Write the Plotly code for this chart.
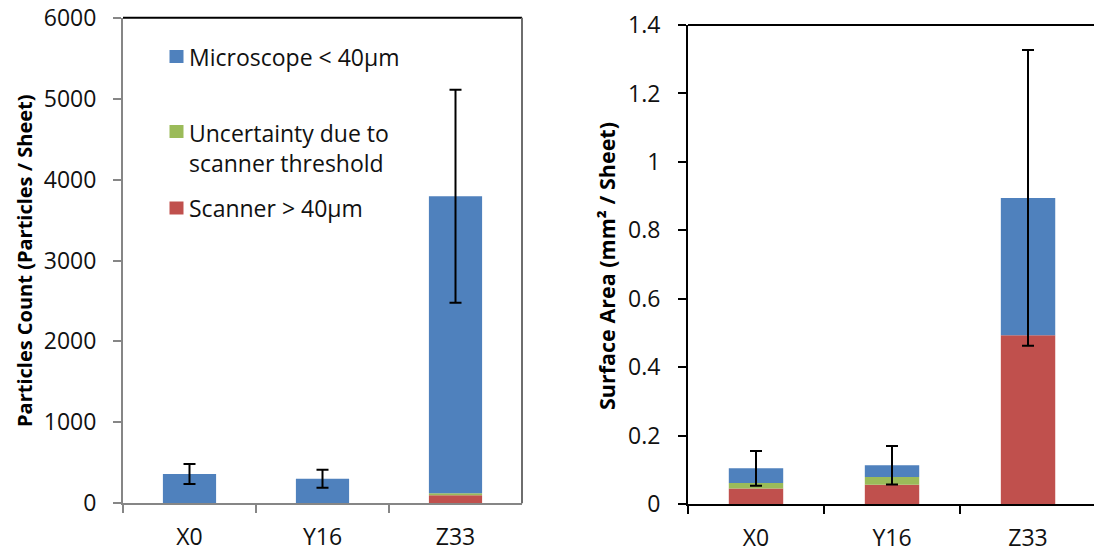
import plotly.graph_objects as go

# Sample sheets
categories = ["X0", "Y16", "Z33"]

# Particle counts per sheet, by detection method
count_scanner = [0, 0, 100]
count_uncertainty = [0, 0, 25]
count_microscope = [362, 304, 3670]
count_error = [125, 111, 1316]

# Particle surface area per sheet (mm²), by detection method
area_scanner = [0.046, 0.057, 0.494]
area_uncertainty = [0.016, 0.023, 0.0]
area_microscope = [0.043, 0.034, 0.401]
area_error = [0.051, 0.056, 0.432]

series_names = ["Scanner > 40µm", "Uncertainty due to scanner threshold", "Microscope < 40µm"]
series_colors = ["#C0504D", "#9BBB59", "#4F81BD"]

W, H = 1094, 554
FONT = "Open Sans"
TEXT = "#111111"


def px_x(v):
    return v / W


def px_y(v):
    return 1 - v / H


fig = go.Figure()

panels = [
    ("x", "y", [count_scanner, count_uncertainty, count_microscope], count_error),
    ("x2", "y2", [area_scanner, area_uncertainty, area_microscope], area_error),
]

for xa, ya, stacks, errs in panels:
    for name, color, vals in zip(series_names, series_colors, stacks):
        fig.add_trace(go.Bar(
            x=categories, y=vals, name=name, xaxis=xa, yaxis=ya,
            marker=dict(color=color, line=dict(width=0)),
            width=0.4, showlegend=False,
        ))
    totals = [sum(v) for v in zip(*stacks)]
    fig.add_trace(go.Scatter(
        x=categories, y=totals, xaxis=xa, yaxis=ya, mode="markers",
        marker=dict(size=1, opacity=0), showlegend=False, hoverinfo="skip",
        error_y=dict(type="data", array=errs, symmetric=True,
                     color="black", thickness=2, width=6),
    ))

tick_font = dict(family=FONT, size=23, color=TEXT)

fig.update_layout(
    width=W, height=H,
    margin=dict(l=0, r=0, t=0, b=0, autoexpand=False),
    paper_bgcolor="white", plot_bgcolor="white",
    barmode="relative",
    showlegend=False,
    xaxis=dict(
        domain=[px_x(123), px_x(522)], range=[-0.5, 2.5],
        showline=True, linecolor="#868686", linewidth=2,
        ticks="outside", tickson="boundaries", ticklen=8, tickwidth=2, tickcolor="#868686",
        tickfont=tick_font, ticklabelstandoff=12, showgrid=False, automargin=False,
    ),
    yaxis=dict(
        domain=[px_y(503.3), px_y(17.7)], range=[0, 6000], tick0=0, dtick=1000,
        showline=True, linecolor="#868686", linewidth=2,
        ticks="outside", ticklen=8, tickwidth=2, tickcolor="#868686",
        tickfont=tick_font, ticklabelstandoff=12, showgrid=False, zeroline=False,
        automargin=False,
    ),
    xaxis2=dict(
        domain=[px_x(688), 1.0], range=[-0.5, 2.485], anchor="y2",
        showline=True, linecolor="black", linewidth=2,
        ticks="outside", tickson="boundaries", ticklen=8, tickwidth=2, tickcolor="black",
        tickfont=tick_font, ticklabelstandoff=12, showgrid=False, automargin=False,
    ),
    yaxis2=dict(
        domain=[px_y(504.3), px_y(25)], range=[0, 1.4], tick0=0, dtick=0.2, anchor="x2",
        showline=True, linecolor="black", linewidth=2,
        ticks="outside", ticklen=8, tickwidth=2, tickcolor="black",
        tickfont=tick_font, ticklabelstandoff=13, showgrid=False, zeroline=False,
        automargin=False,
    ),
)

# Plot-area borders (top/right)
fig.add_shape(type="line", xref="paper", yref="paper",
              x0=px_x(123), x1=px_x(522), y0=px_y(17.7), y1=px_y(17.7),
              line=dict(color="black", width=2))
fig.add_shape(type="line", xref="paper", yref="paper",
              x0=px_x(522), x1=px_x(522), y0=px_y(17.7), y1=px_y(503.3),
              line=dict(color="#6e6e6e", width=2))
fig.add_shape(type="line", xref="paper", yref="paper",
              x0=px_x(688), x1=1.0, y0=px_y(25), y1=px_y(25),
              line=dict(color="black", width=2))

# Axis titles
fig.add_annotation(text="<b>Particles Count (Particles / Sheet)</b>", xref="paper", yref="paper",
                   x=px_x(24), y=px_y(261), textangle=-90, showarrow=False,
                   font=dict(family=FONT, size=20, color="black"),
                   xanchor="center", yanchor="middle")
fig.add_annotation(text="<b>Surface Area (mm² / Sheet)</b>", xref="paper", yref="paper",
                   x=px_x(607), y=px_y(266), textangle=-90, showarrow=False,
                   font=dict(family=FONT, size=21.5, color="black"),
                   xanchor="center", yanchor="middle")

# Legend, drawn inside the left panel
legend_font = dict(family=FONT, size=23, color=TEXT)
legend_items = [
    (series_names[2], series_colors[2], 56.5, 56.5),
    ("Uncertainty due to<br>scanner threshold", series_colors[1], 131.5, 148),
    (series_names[0], series_colors[0], 208, 208),
]
for label, color, sq_y, txt_y in legend_items:
    fig.add_shape(type="rect", xref="paper", yref="paper",
                  x0=px_x(169.5), x1=px_x(183.5), y0=px_y(sq_y + 6.5), y1=px_y(sq_y - 6.5),
                  fillcolor=color, line=dict(width=0))
    fig.add_annotation(text=label, xref="paper", yref="paper",
                       x=px_x(187), y=px_y(txt_y), showarrow=False, align="left",
                       xanchor="left", yanchor="middle", font=legend_font)

fig.write_html("out.html")
